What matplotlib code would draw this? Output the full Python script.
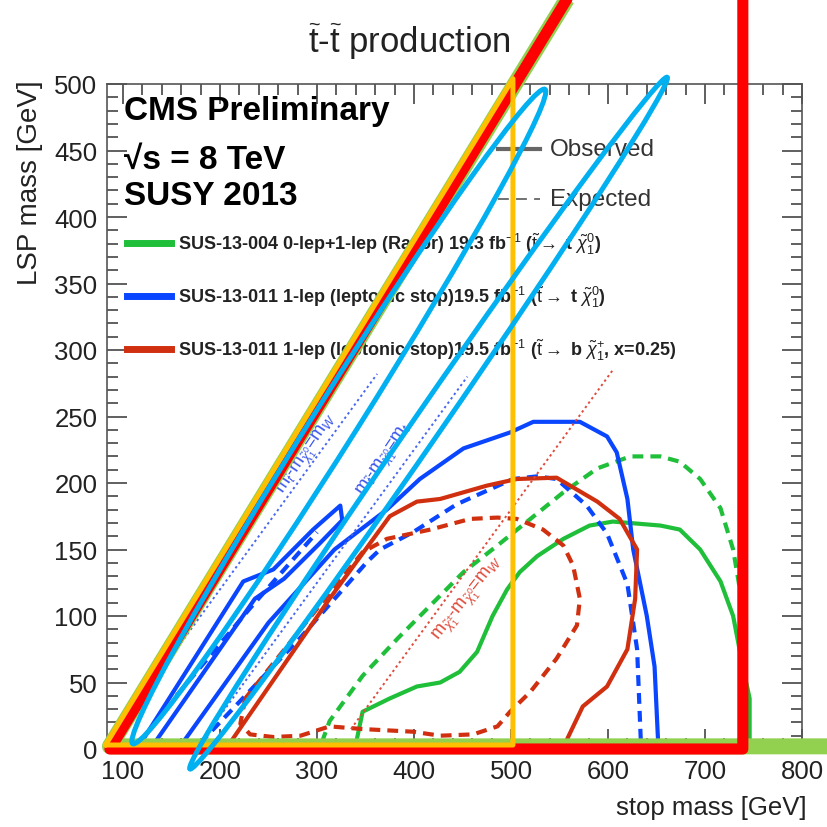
import numpy as np
import matplotlib
matplotlib.use('Agg')
import matplotlib.pyplot as plt
from matplotlib.patches import Ellipse
from matplotlib.transforms import IdentityTransform

# contour points (stop mass, LSP mass) in GeV
razor_obs_x = [339, 347, 375, 403, 427, 447, 465, 481, 496, 509, 527, 554, 581, 605, 654, 674, 695, 716, 729, 739, 746, 746]
razor_obs_y = [0, 28, 38, 47, 50, 58, 73, 100, 120, 133, 145, 158, 168, 171, 168, 165, 150, 126, 100, 62, 38, 0]
razor_exp_x = [305, 313, 347, 383, 417, 451, 486, 520, 554, 589, 623, 654, 674, 695, 716, 729, 736, 740]
razor_exp_y = [5, 21, 55, 83, 108, 133, 153, 173, 193, 211, 220, 220, 216, 203, 181, 150, 120, 83]

t2tt_obs_x = [157, 250, 318, 372, 406, 451, 499, 523, 571, 599, 609, 620, 626, 640, 648, 652]
t2tt_obs_y = [0, 95, 150, 180, 203, 226, 238, 246, 246, 235, 223, 188, 150, 100, 62, 0]
t2tt_exp_x = [179, 282, 352, 365, 399, 444, 502, 527, 547, 578, 599, 620, 630, 634]
t2tt_exp_y = [4, 83, 141, 150, 163, 184, 203, 205, 203, 183, 162, 124, 75, 3]
island_obs_x = [118, 224, 255, 296, 324, 326, 302, 266, 236, 132]
island_obs_y = [4, 126, 135, 165, 183, 172, 154, 128, 113, 4]
island_exp_x = [155, 230, 300]
island_exp_y = [40, 105, 163]

t2bw_obs_x = [206, 313, 375, 403, 427, 475, 506, 547, 561, 589, 612, 630, 628, 620, 599, 574, 553]
t2bw_obs_y = [0, 113, 175, 186, 188, 198, 203, 204, 198, 186, 173, 150, 113, 75, 47, 32, 0]
t2bw_exp_x = [226, 221, 231, 255, 283, 313, 347, 399, 427, 461, 486, 499, 520, 547, 568, 571, 564, 554, 533, 506, 486, 458, 417, 372, 347, 283, 226]
t2bw_exp_y = [38, 19, 11, 9, 10, 17, 15, 13, 10, 11, 17, 28, 43, 68, 93, 113, 138, 153, 165, 173, 174, 173, 165, 158, 148, 90, 38]

# kinematic lines: mass difference and stop-mass range
dm_w, w_range = 80, (120, 362)
dm_t, t_range = 175, (180, 455)
dm_bw, bw_range = 320, (335, 605)

# hand-drawn highlight marks over the plot
red_mark_x = [567, 86.5, 739, 739]
red_mark_y = [575, 0, 0, 575]
green_mark_x = [567, 86.5, 830]
green_mark_y = [575, 2, 2]
orange_mark_x = [82, 502, 502, 82]
orange_mark_y = [3, 504, 3, 3]
ellipse_tips = [((110, 4), (535, 496)), ((169, -15), (661, 505))]
ellipse_minor_px = [44, 28]

plt.rcParams['font.family'] = ['Liberation Sans', 'DejaVu Sans']
plt.rcParams['mathtext.fontset'] = 'custom'
plt.rcParams['mathtext.rm'] = 'Liberation Sans'
plt.rcParams['mathtext.it'] = 'Liberation Sans:italic'
plt.rcParams['mathtext.bf'] = 'Liberation Sans:bold'

W, H = 827, 828
fig = plt.figure(figsize=(W / 100, H / 100), dpi=100)
ax = fig.add_axes([107 / W, (H - 750) / H, 695 / W, 665 / H])

def fx(px):
    return px / W

def fy(py):
    return 1 - py / H

green = '#1fbf3a'
blue = '#0a45ff'
red = '#d0300f'
lw = 3.0
dash = (0, (2.6, 1.7))

ax.plot(razor_obs_x, razor_obs_y, color=green, lw=lw)
ax.plot(razor_exp_x, razor_exp_y, color=green, lw=lw, ls=dash)
ax.plot(t2tt_obs_x, t2tt_obs_y, color=blue, lw=lw)
ax.plot(t2tt_exp_x, t2tt_exp_y, color=blue, lw=lw, ls=dash)
ax.plot(island_obs_x, island_obs_y, color=blue, lw=lw)
ax.plot(island_exp_x, island_exp_y, color=blue, lw=lw, ls=dash)
ax.plot(t2bw_obs_x, t2bw_obs_y, color=red, lw=lw)
ax.plot(t2bw_exp_x, t2bw_exp_y, color=red, lw=lw, ls=dash)

for dm, rng, c in [(dm_w, w_range, '#4a66f0'), (dm_t, t_range, '#4a66f0'), (dm_bw, bw_range, '#e04a3a')]:
    xs = np.array(rng)
    ax.plot(xs, xs - dm, color=c, lw=1.4, ls=(0, (1.2, 1.6)))

ax.text(290, 222, r'm$_{\tilde{t}}$-m$_{\tilde{\chi}^{0}_{1}}$=m$_{W}$', color='#3a55ee', fontsize=13,
        rotation=56, ha='center', va='center')
ax.text(370, 218, r'm$_{\tilde{t}}$-m$_{\tilde{\chi}^{0}_{1}}$=m$_{t}$', color='#3a55ee', fontsize=13,
        rotation=56, ha='center', va='center')
ax.text(456, 113, r'm$_{\tilde{\chi}^{\pm}_{1}}$-m$_{\tilde{\chi}^{0}_{1}}$=m$_{W}$', color='#e04a3a', fontsize=13,
        rotation=52, ha='center', va='center')

ax.set_xlim(83.5, 800)
ax.set_ylim(0, 500)
ax.set_xticks(np.arange(100, 801, 100))
ax.set_xticks(np.arange(100, 801, 20), minor=True)
ax.set_yticks(np.arange(0, 501, 50))
ax.set_yticks(np.arange(0, 501, 10), minor=True)
ax.tick_params(which='both', direction='in', top=True, right=True, colors='#444', width=1.2,
               labelsize=18.5, labelcolor='#222')
ax.tick_params(which='major', length=14.5, pad=7)
ax.tick_params(which='minor', length=8)
for s in ax.spines.values():
    s.set_color('#555')
    s.set_linewidth(1.2)

# titles and labels (kept inside the axes so the marks can sit above them)
tf = fig.transFigure
ax.text(fx(409), fy(42), r'$\widetilde{\mathrm{t}}$-$\widetilde{\mathrm{t}}$ production', transform=tf,
        fontsize=25, ha='center', va='center', color='#222')
ax.text(fx(30), fy(80), 'LSP mass [GeV]', transform=tf, fontsize=20, rotation=90,
        ha='center', va='top', color='#222')
ax.text(fx(807), fy(808), 'stop mass [GeV]', transform=tf, fontsize=18.5, ha='right', va='center', color='#222')

ax.text(fx(124), fy(112), 'CMS Preliminary', transform=tf, fontsize=24, fontweight='bold', va='center')
ax.text(fx(124), fy(160), '\u221as = 8 TeV', transform=tf, fontsize=24, fontweight='bold', va='center')
ax.text(fx(124), fy(197), 'SUSY 2013', transform=tf, fontsize=24, fontweight='bold', va='center')

ax.plot([fx(498), fx(540)], [fy(150), fy(150)], transform=tf, color='#666', lw=3, clip_on=False)
ax.plot([fx(498), fx(540)], [fy(200), fy(200)], transform=tf, color='#666', lw=1.3, ls=(0, (6, 4)), clip_on=False)
ax.text(fx(550), fy(150), 'Observed', transform=tf, fontsize=17.5, va='center', color='#333')
ax.text(fx(550), fy(200), 'Expected', transform=tf, fontsize=17.5, va='center', color='#333')

entries = [
    (green, 244, r'SUS-13-004 0-lep+1-lep (Razor) 19.3 fb$^{-1}$ ($\tilde{\mathrm{t}}\rightarrow$ t $\tilde{\chi}^{0}_{1}$)'),
    (blue, 297, r'SUS-13-011 1-lep (leptonic stop)19.5 fb$^{-1}$ ($\tilde{\mathrm{t}}\rightarrow$ t $\tilde{\chi}^{0}_{1}$)'),
    (red, 350, r'SUS-13-011 1-lep (leptonic stop)19.5 fb$^{-1}$ ($\tilde{\mathrm{t}}\rightarrow$ b $\tilde{\chi}^{+}_{1}$, x=0.25)'),
]
for c, py, label in entries:
    ax.plot([fx(127), fx(171)], [fy(py), fy(py)], transform=tf, color=c, lw=5, clip_on=False)
    ax.text(fx(178), fy(py), label, transform=tf, fontsize=13, fontweight='bold', va='center', color='#222')

# highlight marks
ax.plot(green_mark_x, green_mark_y, color='#92D050', lw=11.5, clip_on=False, zorder=10,
        solid_joinstyle='round', solid_capstyle='butt')
ax.plot(red_mark_x, red_mark_y, color='#FF0000', lw=8, clip_on=False, zorder=11,
        solid_joinstyle='round', solid_capstyle='round')
ax.plot(orange_mark_x, orange_mark_y, color='#FFC000', lw=3.6, clip_on=False, zorder=12,
        solid_joinstyle='round', solid_capstyle='round')
for (a, b), minor in zip(ellipse_tips, ellipse_minor_px):
    p0 = ax.transData.transform(a)
    p1 = ax.transData.transform(b)
    d = p1 - p0
    e = Ellipse((p0 + p1) / 2, np.hypot(*d), minor, angle=np.degrees(np.arctan2(d[1], d[0])),
                transform=IdentityTransform(), fill=False, ec='#00B0F0', lw=3.6, zorder=13, clip_on=False)
    ax.add_patch(e)

fig.savefig('out.png', dpi=100)
